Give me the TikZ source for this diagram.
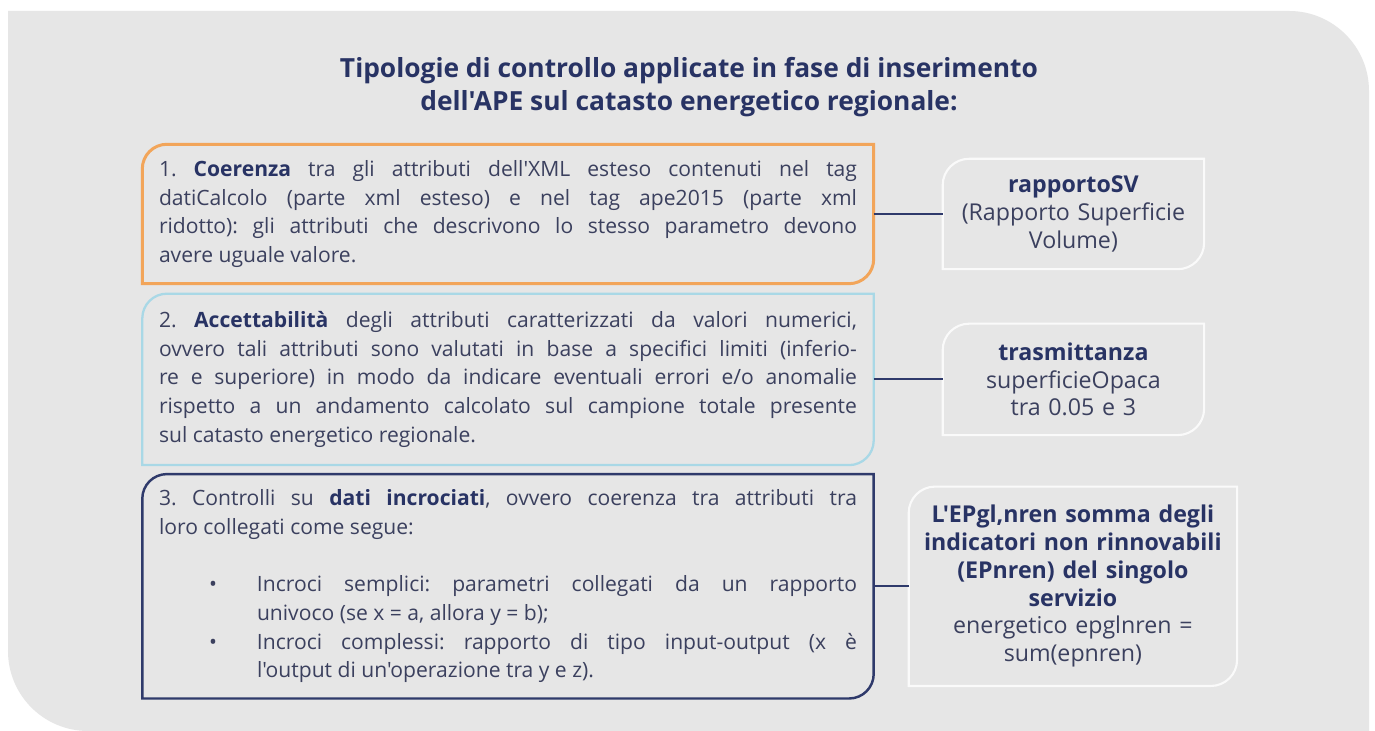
\documentclass[tikz,border=0pt]{standalone}
\usepackage{fontspec}
\setmainfont{Open Sans}[Ligatures=TeXOff]
\usetikzlibrary{positioning,calc}

\definecolor{bggrey}{HTML}{E6E6E6}
\definecolor{navy}{HTML}{283364}
\definecolor{slate}{HTML}{3B405E}
\definecolor{apeorange}{HTML}{F2A55A}
\definecolor{apeblue}{HTML}{A9D8E6}
\definecolor{apenavy}{HTML}{2F3A6B}
\definecolor{rimwhite}{HTML}{FAFAFA}

% frame with rounded top-left and bottom-right corners
\newcommand{\leafframe}[3]{%
  \draw[#2] (#1.north east) -- ($(#1.south east)+(0,#3)$)
    arc[start angle=0,end angle=-90,radius=#3] -- (#1.south west)
    -- ($(#1.north west)-(0,#3)$)
    arc[start angle=180,end angle=90,radius=#3] -- cycle;}
\newcommand{\hl}[1]{{\bfseries\color{navy}#1}}

\begin{document}
\frenchspacing
\begin{tikzpicture}[thick,
    rulebox/.style={minimum width=14.6cm, text width=13.96cm, inner xsep=0.32cm,
      align=justify, text=slate, font=\frenchspacing\fontsize{12}{16.3}\selectfont},
    tagbox/.style={minimum width=5.2cm, text width=5cm, inner xsep=0.1cm,
      align=center, text=slate, font=\fontsize{13.2}{15.8}\selectfont},
    linkline/.style={draw=apenavy, line width=1.1pt}]
  \useasboundingbox[fill=white] (0,0) rectangle (27.5,14.62);
  \fill[bggrey] (0.16,1.6) -- (0.16,14.4) -- (25.78,14.4)
    arc[start angle=90,end angle=0,radius=1.6] -- (27.38,0) -- (1.76,0)
    arc[start angle=270,end angle=180,radius=1.6] -- cycle;

  \node[align=center, text=navy, font=\fontsize{15}{18.8}\selectfont\bfseries] (title) at (13.78,12.88)
    {Tipologie di controllo applicate in fase di inserimento\\dell'APE sul catasto energetico regionale:};

  % left column
  \node[rulebox, minimum height=2.76cm] (coer) at (10.16,10.34)
    {1. \hl{Coerenza} tra gli attributi dell'XML esteso contenuti nel tag\linebreak
     datiCalcolo (parte xml esteso) e nel tag ape2015 (parte xml\linebreak
     ridotto): gli attributi che descrivono lo stesso parametro devono\linebreak
     avere uguale valore.};
  \node[rulebox, minimum height=3.4cm, below=0.2cm of coer] (acc)
    {2. \hl{Accettabilità} degli attributi caratterizzati da valori numerici,\linebreak
     ovvero tali attributi sono valutati in base a specifici limiti (inferio-\linebreak
     re e superiore) in modo da indicare eventuali errori e/o anomalie\linebreak
     rispetto a un andamento calcolato sul campione totale presente\linebreak
     sul catasto energetico regionale.};
  \node[rulebox, minimum height=4.46cm, below=0.18cm of acc] (incr)
    {3. Controlli su \hl{dati incrociati}, ovvero coerenza tra attributi tra\linebreak
     loro collegati come segue:\par\vspace{16.3pt}
     \leftskip=1.96cm
     \noindent\llap{\textbullet\hspace{0.8cm}}Incroci semplici: parametri collegati da un rapporto\linebreak
     univoco (se x = a, allora y = b);\par
     \noindent\llap{\textbullet\hspace{0.8cm}}Incroci complessi: rapporto di tipo input-output (x è\linebreak
     l'output di un'operazione tra y e z).\par};

  % right column
  \node[tagbox, minimum height=2.18cm, right=1.38cm of coer] (sv)
    {\hl{rapportoSV}\\(Rapporto Superficie\\Volume)};
  \node[tagbox, minimum height=2.2cm, right=1.38cm of acc] (trasm)
    {\hl{trasmittanza}\\superficieOpaca\\tra 0.05 e 3};
  \node[tagbox, minimum width=6.54cm, text width=6.3cm, minimum height=3.96cm, right=0.7cm of incr] (epgl)
    {\hl{L'EPgl,nren somma degli\\indicatori non rinnovabili\\(EPnren) del singolo\\servizio}\\energetico epglnren =\\sum(epnren)};

  \leafframe{coer}{apeorange, line width=1.7pt}{14pt}
  \leafframe{acc}{apeblue, line width=1.3pt}{14pt}
  \leafframe{incr}{apenavy, line width=1.4pt}{14pt}
  \leafframe{sv}{rimwhite, line width=1.2pt}{15pt}
  \leafframe{trasm}{rimwhite, line width=1.2pt}{15pt}
  \leafframe{epgl}{rimwhite, line width=1.2pt}{15pt}

  \draw[linkline] (coer) -- (sv);
  \draw[linkline] (acc) -- (trasm);
  \draw[linkline] (incr.east) -- (incr.east -| epgl.west);
\end{tikzpicture}
\end{document}
